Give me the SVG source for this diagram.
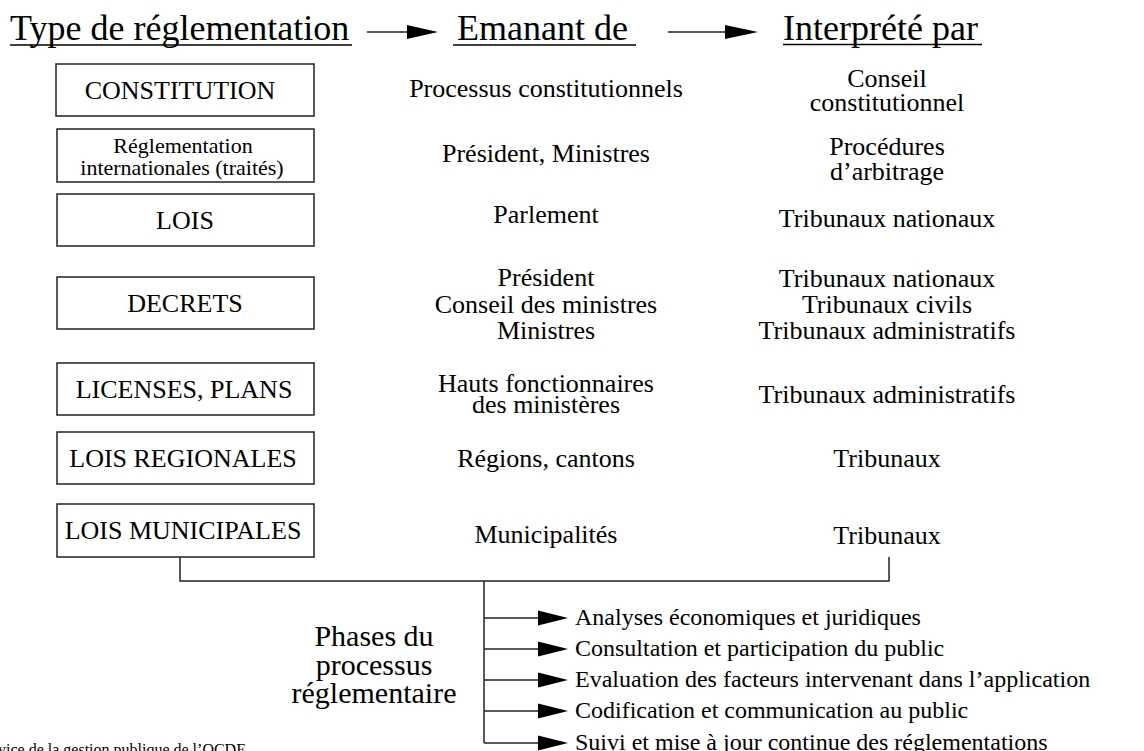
<svg xmlns="http://www.w3.org/2000/svg" width="1144" height="751" viewBox="0 0 1144 751">
<style>
text{font-family:"Liberation Serif","Times New Roman",serif;fill:#000}
.h{font-size:36px}
.b{font-size:26px;text-anchor:middle}
.s{font-size:22px;text-anchor:middle}
.p{font-size:24px}
.ph{font-size:30px;text-anchor:middle}
.f{font-size:16px}
.box{fill:#fff;stroke:#222;stroke-width:1.5}
.ln{fill:none;stroke:#222;stroke-width:1.5}
.ul{stroke:#000;stroke-width:1.6}
.ah{fill:#000}
</style>

<g id="headers">
<text class="h" x="10" y="40">Type de réglementation</text>
<line class="ul" x1="10" y1="45" x2="352" y2="45"/>
<text class="h" x="457" y="40">Emanant de</text>
<line class="ul" x1="453" y1="45" x2="636" y2="45"/>
<text class="h" x="783" y="40">Interprété par</text>
<line class="ul" x1="783" y1="44.5" x2="982" y2="44.5"/>
</g>

<g id="connectors">
<line class="ln" x1="367" y1="32" x2="410" y2="32"/>
<polygon class="ah" points="407,25 438,32 407,39"/>
<line class="ln" x1="668" y1="32" x2="727" y2="32"/>
<polygon class="ah" points="725,25 758,32 725,39"/>
<polyline class="ln" points="180,557 180,581 889,581 889,557"/>
<line class="ln" x1="484" y1="581" x2="484" y2="743"/>
<line class="ln" x1="484" y1="618" x2="540" y2="618"/>
<polygon class="ah" points="538,610.5 568,618 538,625.5"/>
<line class="ln" x1="484" y1="649" x2="540" y2="649"/>
<polygon class="ah" points="538,641.5 568,649 538,656.5"/>
<line class="ln" x1="484" y1="680" x2="540" y2="680"/>
<polygon class="ah" points="538,672.5 568,680 538,687.5"/>
<line class="ln" x1="484" y1="711" x2="540" y2="711"/>
<polygon class="ah" points="538,703.5 568,711 538,718.5"/>
<line class="ln" x1="484" y1="743" x2="540" y2="743"/>
<polygon class="ah" points="538,735.5 568,743 538,750.5"/>
</g>

<g id="row-constitution">
<rect class="box" x="56" y="64" width="258" height="52"/>
<text class="b" x="180" y="99">CONSTITUTION</text>
<text class="b" x="546" y="97">Processus constitutionnels</text>
<text class="b" x="887" y="87">Conseil</text>
<text class="b" x="887" y="111">constitutionnel</text>
</g>

<g id="row-traites">
<rect class="box" x="57" y="129" width="257" height="53"/>
<text class="s" x="183" y="153">Réglementation</text>
<text class="s" x="182" y="175">internationales (traités)</text>
<text class="b" x="546" y="162">Président, Ministres</text>
<text class="b" x="887" y="155">Procédures</text>
<text class="b" x="887" y="180">d’arbitrage</text>
</g>

<g id="row-lois">
<rect class="box" x="57" y="194" width="257" height="52"/>
<text class="b" x="185" y="228.5">LOIS</text>
<text class="b" x="546" y="223">Parlement</text>
<text class="b" x="887" y="227">Tribunaux nationaux</text>
</g>

<g id="row-decrets">
<rect class="box" x="57" y="277" width="257" height="52"/>
<text class="b" x="185" y="311.5">DECRETS</text>
<text class="b" x="546" y="286">Président</text>
<text class="b" x="546" y="313">Conseil des ministres</text>
<text class="b" x="546" y="339">Ministres</text>
<text class="b" x="887" y="287">Tribunaux nationaux</text>
<text class="b" x="887" y="313">Tribunaux civils</text>
<text class="b" x="887" y="339">Tribunaux administratifs</text>
</g>

<g id="row-licenses">
<rect class="box" x="57" y="363" width="257" height="52"/>
<text class="b" x="184" y="397.5">LICENSES, PLANS</text>
<text class="b" x="546" y="392">Hauts fonctionnaires</text>
<text class="b" x="546" y="413">des ministères</text>
<text class="b" x="887" y="403">Tribunaux administratifs</text>
</g>

<g id="row-regionales">
<rect class="box" x="57" y="432" width="257" height="52"/>
<text class="b" x="183" y="466.5">LOIS REGIONALES</text>
<text class="b" x="546" y="467">Régions, cantons</text>
<text class="b" x="887" y="467">Tribunaux</text>
</g>

<g id="row-municipales">
<rect class="box" x="57" y="504" width="257" height="53"/>
<text class="b" x="183" y="539">LOIS MUNICIPALES</text>
<text class="b" x="546" y="543">Municipalités</text>
<text class="b" x="887" y="544">Tribunaux</text>
</g>

<g id="phases">
<text class="ph" x="374" y="646">Phases du</text>
<text class="ph" x="374" y="675">processus</text>
<text class="ph" x="374" y="703">réglementaire</text>
<text class="p" x="575" y="625">Analyses économiques et juridiques</text>
<text class="p" x="575" y="656">Consultation et participation du public</text>
<text class="p" x="575" y="687">Evaluation des facteurs intervenant dans l’application</text>
<text class="p" x="575" y="718">Codification et communication au public</text>
<text class="p" x="575" y="750">Suivi et mise à jour continue des réglementations</text>
</g>

<g id="footnote">
<text class="f" x="-2" y="755">vice de la gestion publique de l’OCDE</text>
</g>
</svg>
